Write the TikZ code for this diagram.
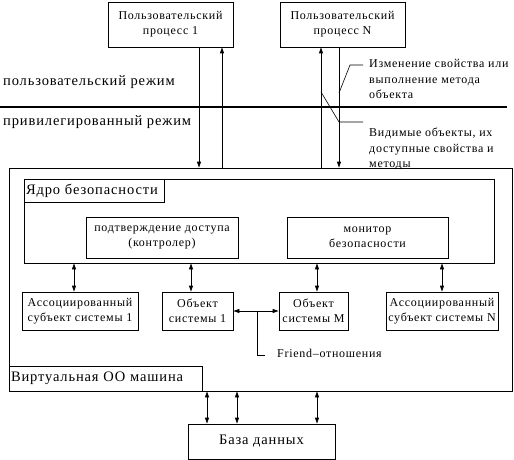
\documentclass[tikz,border=0pt]{standalone}
\usepackage{fontspec}
\setmainfont{Liberation Serif}
\newfontfamily\wfont[LetterSpace=6]{Liberation Serif}
\usetikzlibrary{arrows.meta}
\begin{document}
\begin{tikzpicture}[x=1pt,y=-1pt,
  box/.style={draw,line width=0.8pt,inner sep=0pt,align=center,font=\wfont\fontsize{12}{15}\selectfont},
  bigtxt/.style={inner sep=0pt,font=\wfont\fontsize{14.5}{16}\selectfont},
  lbl/.style={inner sep=0pt,align=left,font=\wfont\fontsize{12}{15.5}\selectfont},
  arr/.style={line width=0.8pt,-{Triangle[length=6pt,width=4pt]}},
  darr/.style={line width=0.8pt,{Triangle[length=6pt,width=4pt]}-{Triangle[length=6pt,width=4pt]}},
  lead/.style={line width=0.6pt}]
\useasboundingbox (0,0) rectangle (514,460);
% top process boxes
\node[box,minimum width=125pt,minimum height=45pt] (p1) at (170.5,24.5) {Пользовательский\\процесс 1};
\node[box,minimum width=125pt,minimum height=45pt] (pN) at (342.5,24.5) {Пользовательский\\процесс N};
% virtual machine outer box
\node[draw,line width=0.8pt,minimum width=503pt,minimum height=223pt,inner sep=0pt] (vm) at (260.5,279.5) {};
\node[box,minimum width=193pt,minimum height=25pt,anchor=south west,font=\wfont\fontsize{14.5}{16}\selectfont,text width=189pt,align=left] (vmt) at (vm.south west) {Виртуальная ОО машина};
% kernel
\node[draw,line width=0.8pt,minimum width=470pt,minimum height=84pt,inner sep=0pt] (core) at (259,221) {};
\node[box,minimum width=140pt,minimum height=23pt,anchor=north west,font=\wfont\fontsize{14.5}{16}\selectfont,text width=136pt,align=left] (coret) at (core.north west) {Ядро безопасности};
\node[box,minimum width=152pt,minimum height=41pt] (ctl) at (162,237.5) {подтверждение доступа\\(контролер)};
\node[box,minimum width=161pt,minimum height=41pt] (mon) at (367.5,237.5) {монитор\\безопасности};
% row boxes
\node[box,minimum width=116pt,minimum height=38pt] (a1) at (80,311) {Ассоциированный\\субъект системы 1};
\node[box,minimum width=71pt,minimum height=38pt] (o1) at (197.5,311) {Объект\\системы 1};
\node[box,minimum width=69pt,minimum height=38pt] (oM) at (313.5,311) {Объект\\системы M};
\node[box,minimum width=112pt,minimum height=38pt] (aN) at (442,311) {Ассоциированный\\субъект системы N};
% database
\node[box,minimum width=147pt,minimum height=35pt,font=\wfont\fontsize{14.5}{16}\selectfont] (db) at (261.5,441.5) {База данных};
% mode separator
\coordinate (sepL) at (0,107);
\coordinate (sepR) at (507,107);
\draw[line width=2pt] (sepL) -- (sepR);
\node[bigtxt,anchor=west] (um) at (3,82) {пользовательский режим};
\node[bigtxt,anchor=west] (pm) at (3,122) {привилегированный режим};
% process arrows
\draw[arr] ([xshift=28.5pt]p1.south) -- ([xshift=28.5pt]p1.south |- vm.north);
\draw[arr] ([xshift=51.5pt]p1.south |- vm.north) -- ([xshift=51.5pt]p1.south);
\draw[arr] ([xshift=-21.5pt]pN.south |- vm.north) -- ([xshift=-21.5pt]pN.south);
\draw[arr] ([xshift=-3.5pt]pN.south) -- ([xshift=-3.5pt]pN.south |- vm.north);
% right labels
\node[lbl,anchor=west] (l1) at (369,79) {Изменение свойства или\\выполнение метода\\объекта};
\node[lbl,anchor=west] (l2) at (369,149) {Видимые объекты, их\\доступные свойства и\\методы};
\coordinate (c1) at (339,93);
\coordinate (c1b) at (350,65);
\coordinate (c1e) at (363,65);
\draw[lead] (c1) -- (c1b) -- (c1e);
\coordinate (c2) at (321,92);
\coordinate (c2b) at (339,122);
\coordinate (c2e) at (363,122);
\draw[lead] (c2) -- (c2b) -- (c2e);
% kernel to row arrows
\draw[darr] ([xshift=-6pt]a1.north |- core.south) -- ([xshift=-6pt]a1.north);
\draw[darr] ([xshift=-6.5pt]o1.north |- core.south) -- ([xshift=-6.5pt]o1.north);
\draw[darr] ([xshift=3.5pt]oM.north |- core.south) -- ([xshift=3.5pt]oM.north);
\draw[darr] (aN.north |- core.south) -- (aN.north);
% friend relation
\draw[darr] (o1.east) -- (oM.east -| oM.west);
\node[lbl,anchor=west] (fr) at (277,353) {Friend–отношения};
\coordinate (f1) at (257,311);
\coordinate (f2) at (257,355);
\coordinate (f3) at (265,355);
\draw[lead] (f1) -- (f2) -- (f3);
% db arrows
\draw[darr] ([xshift=-54.5pt]db.north |- vm.south) -- ([xshift=-54.5pt]db.north);
\draw[darr] ([xshift=-24.5pt]db.north |- vm.south) -- ([xshift=-24.5pt]db.north);
\draw[darr] ([xshift=55.5pt]db.north |- vm.south) -- ([xshift=55.5pt]db.north);
\end{tikzpicture}
\end{document}
